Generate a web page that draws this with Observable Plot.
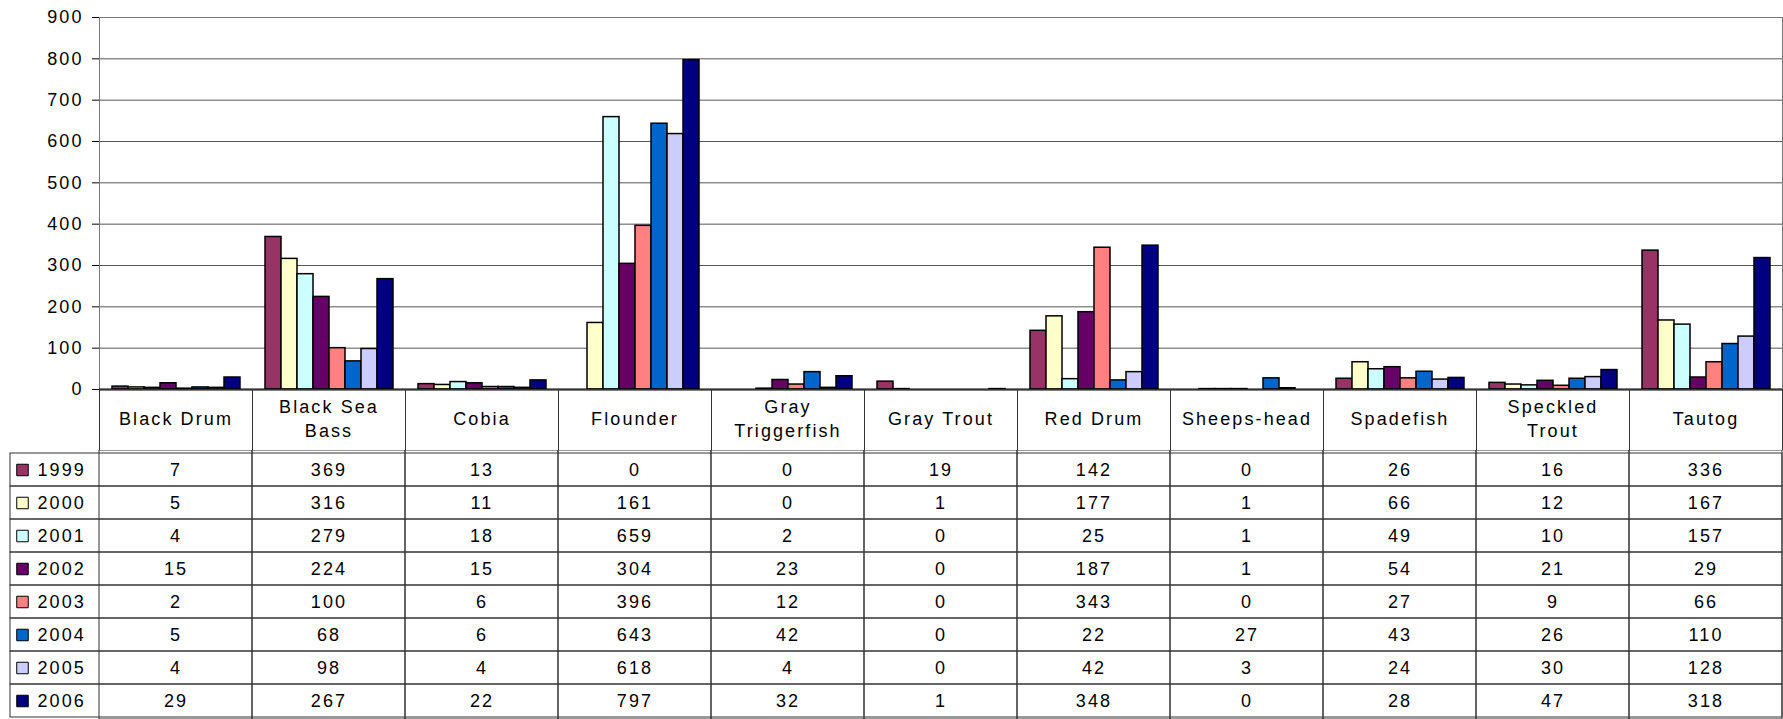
<!DOCTYPE html>
<html>
<head>
<meta charset="utf-8">
<script src="https://cdn.jsdelivr.net/npm/d3@7"></script>
<script src="https://cdn.jsdelivr.net/npm/@observablehq/plot@0.6"></script>
<style>
  html, body { margin: 0; padding: 0; background: #fff; }
  #chart svg, #table svg { display: block; }
  svg text { letter-spacing: 2.1px; }
</style>
</head>
<body>
<div id="chart"></div>
<div id="table"></div>
<script>
const categories = ["Black Drum", "Black Sea Bass", "Cobia", "Flounder", "Gray Triggerfish", "Gray Trout", "Red Drum", "Sheeps-head", "Spadefish", "Speckled Trout", "Tautog"];
const categoryLabels = ["Black Drum", "Black Sea\nBass", "Cobia", "Flounder", "Gray\nTriggerfish", "Gray Trout", "Red Drum", "Sheeps-head", "Spadefish", "Speckled\nTrout", "Tautog"];
const years = ["1999", "2000", "2001", "2002", "2003", "2004", "2005", "2006"];
const yearColors = ["#993366", "#FFFFCC", "#CCFFFF", "#660066", "#FF8080", "#0066CC", "#CCCCFF", "#000080"];
const v1999 = [7, 369, 13, 0, 0, 19, 142, 0, 26, 16, 336];
const v2000 = [5, 316, 11, 161, 0, 1, 177, 1, 66, 12, 167];
const v2001 = [4, 279, 18, 659, 2, 0, 25, 1, 49, 10, 157];
const v2002 = [15, 224, 15, 304, 23, 0, 187, 1, 54, 21, 29];
const v2003 = [2, 100, 6, 396, 12, 0, 343, 0, 27, 9, 66];
const v2004 = [5, 68, 6, 643, 42, 0, 22, 27, 43, 26, 110];
const v2005 = [4, 98, 4, 618, 4, 0, 42, 3, 24, 30, 128];
const v2006 = [29, 267, 22, 797, 32, 1, 348, 0, 28, 47, 318];
const yTicks = [0, 100, 200, 300, 400, 500, 600, 700, 800, 900];

const series = [v1999, v2000, v2001, v2002, v2003, v2004, v2005, v2006];
const rows = [];
years.forEach((yr, i) => categories.forEach((c, j) => rows.push({species: c, year: yr, value: series[i][j]})));

const font = {fontFamily: "'Liberation Sans', Arial, sans-serif", fontSize: "18px", color: "black", background: "white"};

// Bar chart plus the table's header row (in the bottom margin)
const chart = Plot.plot({
  width: 1783, height: 450,
  marginLeft: 98, marginRight: 1, marginTop: 17, marginBottom: 61,
  style: font,
  fx: {domain: categories, padding: 0, axis: null, label: null},
  x: {domain: years, paddingInner: 0, paddingOuter: 0.7, axis: null, label: null},
  y: {domain: [0, 900], ticks: yTicks, tickSize: 7, tickPadding: 9, line: true, label: null},
  color: {domain: years, range: yearColors},
  marks: [
    Plot.ruleY(yTicks, {stroke: "#555", strokeWidth: 1}),
    Plot.barY(rows.filter(d => d.value > 0), {fx: "species", x: "year", y: "value", fill: "year", stroke: "black", strokeWidth: 1.5}),
    Plot.frame({facet: "super", stroke: "#777"}),
    Plot.ruleY([0], {stroke: "black", strokeWidth: 2}),
    Plot.frame({stroke: "#333", insetTop: 372, insetBottom: -61}),
    Plot.text(categories, {fx: d => d, frameAnchor: "bottom", dy: 28, lineAnchor: "middle", lineHeight: 1.33, text: (d, i) => categoryLabels[i], fill: "black"})
  ]
});
document.getElementById("chart").appendChild(chart);

// Data table rows with legend keys
const table = Plot.plot({
  width: 1783, height: 269,
  marginLeft: 98, marginRight: 1, marginTop: 0, marginBottom: 0,
  style: font,
  x: {domain: categories, padding: 0, axis: null, label: null},
  y: {domain: years, padding: 0, axis: null, label: null},
  color: {domain: years, range: yearColors},
  marks: [
    Plot.cell(categories, {x: d => d, fill: "none", stroke: "#333"}),
    Plot.cell(years, {y: d => d, fill: "none", stroke: "#333", insetLeft: -88}),
    Plot.text(rows, {x: "species", y: "year", text: d => String(d.value), fill: "black"}),
    Plot.dot(years, {y: d => d, frameAnchor: "left", dx: -76, symbol: "square", r: 6.5, fill: d => d, stroke: "black", strokeWidth: 1}),
    Plot.text(years, {y: d => d, frameAnchor: "left", dx: -61, textAnchor: "start", text: d => d, fill: "black"})
  ]
});
document.getElementById("table").appendChild(table);
</script>
</body>
</html>
